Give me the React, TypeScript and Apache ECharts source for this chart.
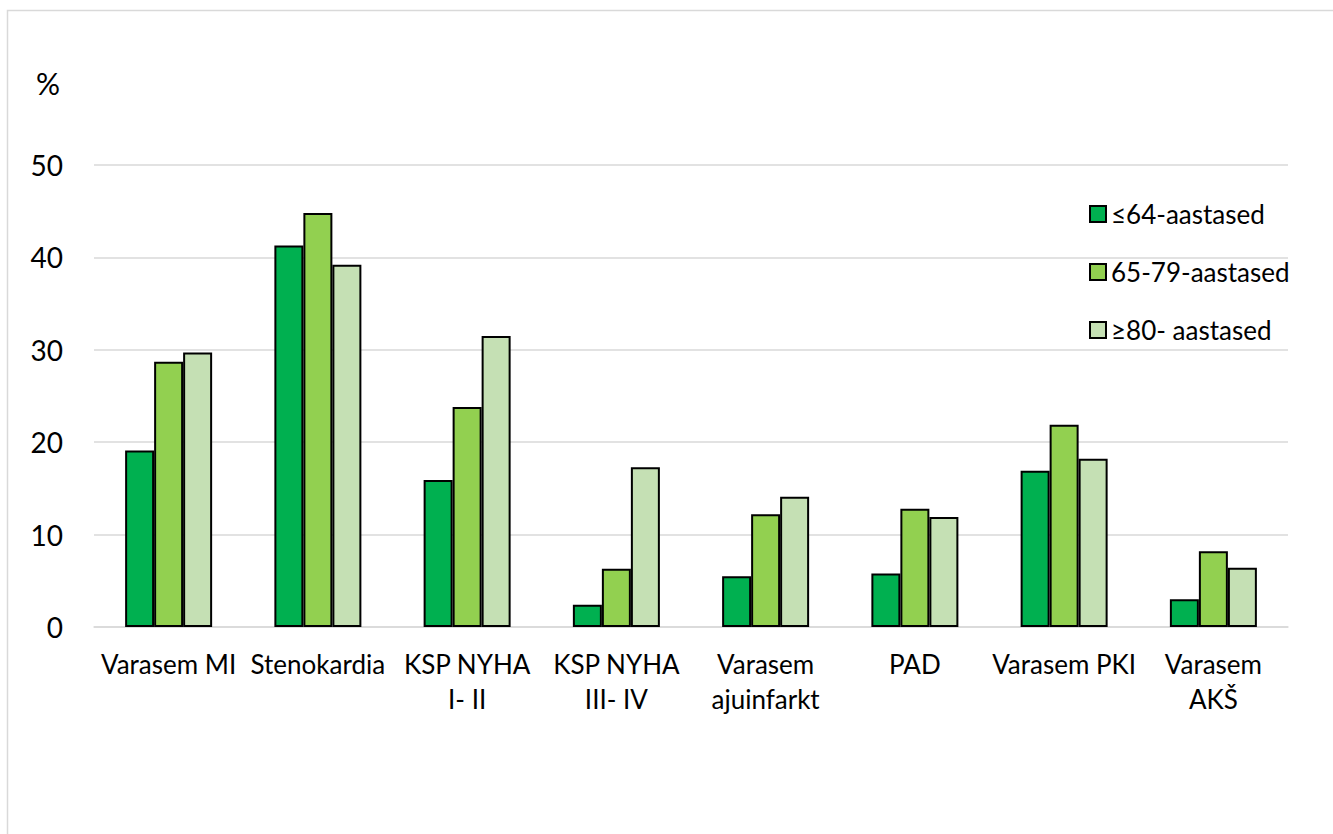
import React, { useEffect, useRef } from "react";
import * as echarts from "echarts";

const categories = [
  "Varasem MI",
  "Stenokardia",
  "KSP NYHA\nI- II",
  "KSP NYHA\nIII- IV",
  "Varasem\najuinfarkt",
  "PAD",
  "Varasem PKI",
  "Varasem\nAKŠ",
];

const seriesNames = ["≤64-aastased", "65-79-aastased", "≥80- aastased"];
const under64 = [19.1, 41.3, 15.9, 2.4, 5.5, 5.8, 16.9, 3.0];
const age65to79 = [28.7, 44.8, 23.8, 6.3, 12.2, 12.8, 21.9, 8.2];
const over80 = [29.7, 39.2, 31.5, 17.3, 14.1, 11.9, 18.2, 6.4];
const seriesColors = ["#00B050", "#92D050", "#C5E0B4"];

const yTicks = { min: 0, max: 50, interval: 10 };
const unitLabel = "%";

const FONT = "Lato, 'Noto Sans', sans-serif";

export default function App() {
  const ref = useRef<HTMLDivElement>(null);

  useEffect(() => {
    if (!ref.current) return;
    const chart = echarts.init(ref.current, undefined, { renderer: "svg" });
    const data = [under64, age65to79, over80];
    const option: any = {
      animation: false,
      backgroundColor: "#ffffff",
      textStyle: { fontFamily: FONT },
      graphic: [
        {
          type: "rect",
          shape: { x: 7.5, y: 10.5, width: 1400, height: 900 },
          style: { fill: "none", stroke: "#d9d9d9", lineWidth: 1.5 },
          silent: true,
        },
        {
          type: "text",
          left: 36,
          top: 68,
          style: {
            text: unitLabel,
            fontSize: 30,
            fontFamily: FONT,
            fill: "#000",
          },
        },
      ],
      legend: {
        orient: "vertical",
        left: 1084,
        top: 196,
        itemWidth: 16,
        itemHeight: 16,
        itemGap: 32,
        icon: "rect",
        textStyle: {
          fontSize: 26,
          fontFamily: FONT,
          color: "#000",
          lineHeight: 26,
        },
        data: seriesNames,
      },
      grid: { left: 94, right: 45, top: 165, height: 462, containLabel: false },
      xAxis: {
        type: "category",
        data: categories,
        axisLine: { lineStyle: { color: "#d9d9d9", width: 1.5 } },
        axisTick: { show: false },
        axisLabel: {
          interval: 0,
          margin: 19,
          fontSize: 26,
          lineHeight: 35,
          fontFamily: FONT,
          color: "#000",
        },
      },
      yAxis: {
        type: "value",
        min: yTicks.min,
        max: yTicks.max,
        interval: yTicks.interval,
        axisLine: { show: false },
        axisTick: { show: false },
        splitLine: { lineStyle: { color: "#d9d9d9", width: 1.5 } },
        axisLabel: {
          margin: 31,
          fontSize: 28,
          fontFamily: FONT,
          color: "#000",
        },
      },
      series: seriesNames.map((name, i) => ({
        name,
        type: "bar",
        data: data[i],
        barWidth: 29,
        barGap: "0%",
        itemStyle: {
          color: seriesColors[i],
          borderColor: "#000",
          borderWidth: 2,
        },
      })),
    };
    chart.setOption(option);
    return () => chart.dispose();
  }, []);

  return (
    <div
      ref={ref}
      style={{ position: "fixed", left: 0, top: 0, width: 1333, height: 834 }}
    />
  );
}
